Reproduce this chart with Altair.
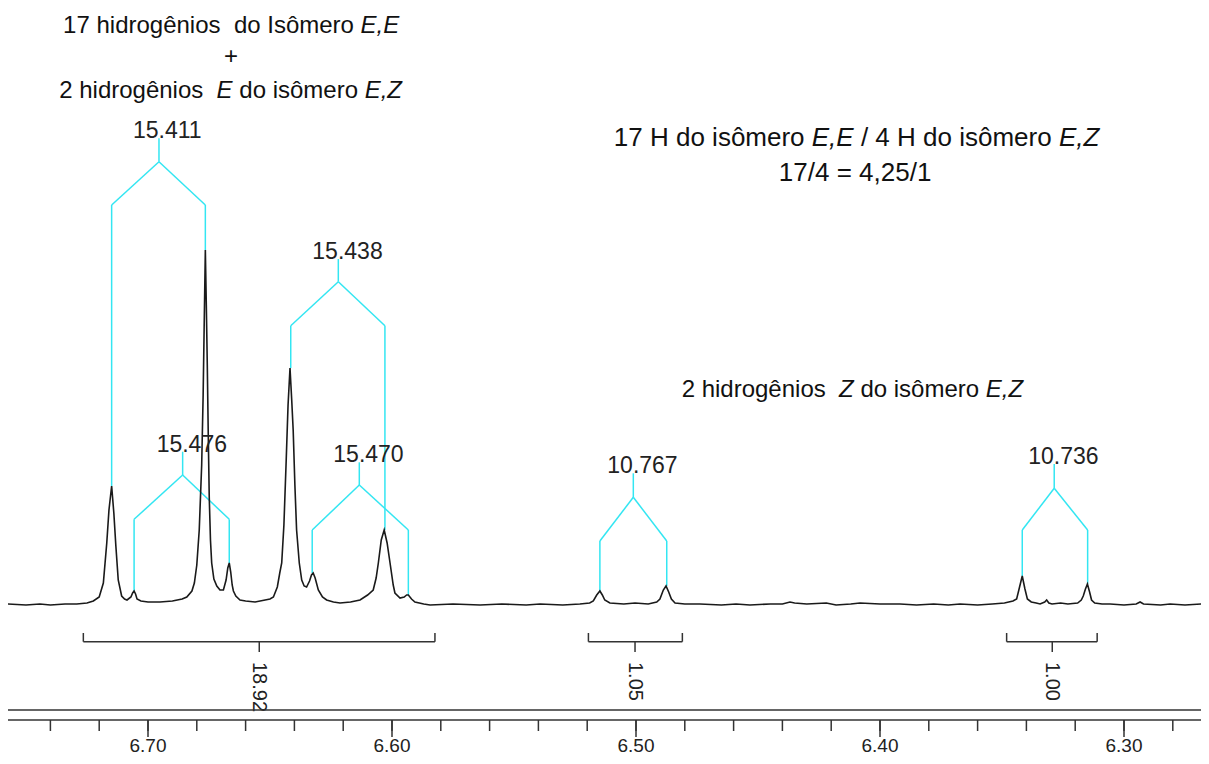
import altair as alt
import pandas as pd

# ---------------- data (ppm, intensity) ----------------
SPEC_PPM = [
    6.7574, 6.7500, 6.7443, 6.7400, 6.7340, 6.7292, 6.7250, 6.7224, 6.7200, 6.7183,
    6.7169, 6.7160, 6.7149, 6.7140, 6.7132, 6.7122, 6.7108, 6.7096, 6.7086, 6.7070,
    6.7063, 6.7057, 6.7051, 6.7045, 6.7029, 6.7000, 6.6951, 6.6900, 6.6860, 6.6841,
    6.6820, 6.6810, 6.6800, 6.6790, 6.6780, 6.6774, 6.6770, 6.6765, 6.6761, 6.6757,
    6.6753, 6.6749, 6.6744, 6.6739, 6.6730, 6.6718, 6.6705, 6.6691, 6.6680, 6.6673,
    6.6667, 6.6661, 6.6655, 6.6650, 6.6640, 6.6623, 6.6600, 6.6561, 6.6520, 6.6500,
    6.6486, 6.6470, 6.6460, 6.6452, 6.6443, 6.6434, 6.6426, 6.6418, 6.6411, 6.6405,
    6.6398, 6.6391, 6.6380, 6.6370, 6.6360, 6.6350, 6.6338, 6.6330, 6.6323, 6.6315,
    6.6302, 6.6285, 6.6268, 6.6240, 6.6213, 6.6170, 6.6131, 6.6100, 6.6077, 6.6065,
    6.6056, 6.6044, 6.6032, 6.6020, 6.6008, 6.5995, 6.5988, 6.5967, 6.5950, 6.5940,
    6.5933, 6.5920, 6.5906, 6.5870, 6.5844, 6.5750, 6.5639, 6.5550, 6.5450, 6.5393,
    6.5300, 6.5230, 6.5190, 6.5175, 6.5161, 6.5148, 6.5138, 6.5128, 6.5107, 6.5050,
    6.5004, 6.4950, 6.4915, 6.4902, 6.4888, 6.4877, 6.4866, 6.4855, 6.4840, 6.4800,
    6.4738, 6.4650, 6.4590, 6.4533, 6.4450, 6.4400, 6.4369, 6.4350, 6.4300, 6.4220,
    6.4180, 6.4120, 6.4082, 6.4000, 6.3918, 6.3850, 6.3780, 6.3720, 6.3672, 6.3600,
    6.3540, 6.3490, 6.3455, 6.3440, 6.3429, 6.3417, 6.3406, 6.3396, 6.3380, 6.3360,
    6.3344, 6.3325, 6.3317, 6.3308, 6.3295, 6.3260, 6.3230, 6.3190, 6.3175, 6.3167,
    6.3158, 6.3150, 6.3141, 6.3133, 6.3120, 6.3090, 6.3057, 6.3000, 6.2950, 6.2934,
    6.2920, 6.2850, 6.2811, 6.2750, 6.2684,
]
SPEC_INT = [
    1, 0, 1, 0, 1, 1, 2, 4, 8, 22,
    62, 95, 119, 92, 60, 25, 9, 6, 5, 8,
    12, 14, 11, 6, 4, 3, 3, 4, 6, 8,
    14, 22, 40, 75, 140, 210, 275, 355, 300, 240,
    170, 108, 65, 42, 26, 19, 15, 15, 25, 37,
    42, 33, 20, 14, 9, 5, 4, 3, 5, 6,
    8, 18, 32, 42, 80, 142, 200, 237, 205, 175,
    120, 75, 42, 25, 19, 18, 24, 30, 32, 27,
    15, 8, 5, 3, 2, 3, 5, 10, 15, 27,
    42, 65, 75, 62, 42, 20, 12, 7, 8, 10,
    10, 6, 3, 1, 0, 1, 0, 1, 0, 1,
    0, 1, 2, 4, 10, 14, 10, 5, 2, 1,
    2, 1, 3, 6, 15, 19, 13, 6, 2, 1,
    1, 0, 1, 0, 1, 1, 3, 2, 1, 2,
    0, 1, 2, 1, 1, 0, 1, 0, 1, 0,
    1, 2, 4, 6, 17, 29, 16, 6, 3, 2,
    1, 3, 5, 2, 1, 2, 1, 2, 5, 9,
    16, 21, 13, 5, 2, 1, 1, 0, 1, 3,
    1, 0, 1, 0, 1,
]

# multiplet trees: label, stem ppm, stem top, stem bottom, shoulder level,
# left leaf ppm, left leaf end, right leaf ppm, right leaf end (intensity units)
TREE_LABEL = ["15.411", "15.476", "15.438", "15.470", "10.767", "10.736"]
TREE_STEM = [6.6955, 6.6858, 6.6220, 6.6134, 6.5011, 6.3286]
TREE_TOP = [466.7, 153.3, 346.0, 142.7, 131.7, 141.0]
TREE_MID = [443.3, 130.0, 323.3, 120.0, 107.7, 116.7]
TREE_SHOULDER = [400.0, 85.7, 279.3, 75.0, 64.0, 75.0]
TREE_LEFT = [6.7149, 6.7057, 6.6415, 6.6327, 6.5148, 6.3417]
TREE_LEFT_END = [119, 14, 237, 32, 14, 29]
TREE_RIGHT = [6.6765, 6.6667, 6.6029, 6.5933, 6.4874, 6.3149]
TREE_RIGHT_END = [355, 42, 75, 10, 19, 21]

# integrals
INT_LABEL = ["18.92", "1.05", "1.00"]
INT_FROM = [6.7265, 6.5195, 6.3481]
INT_TO = [6.5824, 6.4810, 6.3110]
INT_MID = [6.6544, 6.5004, 6.3294]

# axis ticks
MINOR_TICKS = [round(6.74 - 0.02 * i, 2) for i in range(24)]
MAJOR_TICKS = [6.70, 6.60, 6.50, 6.40, 6.30]
MAJOR_LABELS = ["6.70", "6.60", "6.50", "6.40", "6.30"]

# ---------------- view ----------------
W, H = 1193, 748
PPM_LEFT, PPM_RIGHT = 6.757377, 6.268443
V_MIN, V_MAX = -151, 597
PX_PER_PPM = W / (PPM_LEFT - PPM_RIGHT)

xs = alt.Scale(domain=[PPM_RIGHT, PPM_LEFT], reverse=True, nice=False, zero=False)
ys = alt.Scale(domain=[V_MIN, V_MAX], nice=False, zero=False)
X = lambda f: alt.X(f, type="quantitative", scale=xs, axis=None)
Y = lambda f: alt.Y(f, type="quantitative", scale=ys, axis=None)

FONT = "Liberation Sans"
INK = "#1a1a1a"
CYAN = "#33e6f2"
NB = "\u00a0"

spec = pd.DataFrame({"ppm": SPEC_PPM, "v": SPEC_INT})
spectrum = alt.Chart(spec).mark_line(color=INK, strokeWidth=1.6).encode(
    x=X("ppm"), y=Y("v"))

# tree segments
segs = []
for i in range(len(TREE_LABEL)):
    s = TREE_STEM[i]
    segs += [
        (s, TREE_TOP[i], s, TREE_MID[i]),
        (s, TREE_MID[i], TREE_LEFT[i], TREE_SHOULDER[i]),
        (s, TREE_MID[i], TREE_RIGHT[i], TREE_SHOULDER[i]),
        (TREE_LEFT[i], TREE_SHOULDER[i], TREE_LEFT[i], TREE_LEFT_END[i]),
        (TREE_RIGHT[i], TREE_SHOULDER[i], TREE_RIGHT[i], TREE_RIGHT_END[i]),
    ]
seg_df = pd.DataFrame(segs, columns=["x", "y", "x2", "y2"])
trees = alt.Chart(seg_df).mark_rule(color=CYAN, strokeWidth=1.5).encode(
    x=X("x"), y=Y("y"), x2="x2", y2="y2")

tree_lab_df = pd.DataFrame({"x": TREE_STEM, "y": TREE_TOP, "t": TREE_LABEL})
tree_labels = alt.Chart(tree_lab_df).mark_text(
    align="left", baseline="alphabetic", dx=-26, fontSize=23, font=FONT, color="#222"
).encode(x=X("x"), y=Y("y"), text="t")

# integral brackets
HOOK_TOP, BAR, TICK_BOT, LAB_TOP = -28, -36.7, -47, -57
br = []
for i in range(len(INT_LABEL)):
    br += [
        (INT_FROM[i], BAR, INT_TO[i], BAR),
        (INT_FROM[i], HOOK_TOP, INT_FROM[i], BAR),
        (INT_TO[i], HOOK_TOP, INT_TO[i], BAR),
        (INT_MID[i], BAR, INT_MID[i], TICK_BOT),
    ]
br_df = pd.DataFrame(br, columns=["x", "y", "x2", "y2"])
brackets = alt.Chart(br_df).mark_rule(color="#333", strokeWidth=1.5).encode(
    x=X("x"), y=Y("y"), x2="x2", y2="y2")
int_lab_df = pd.DataFrame({"x": INT_MID, "y": [LAB_TOP] * 3, "t": INT_LABEL})
int_labels = alt.Chart(int_lab_df).mark_text(
    angle=90, align="left", baseline="middle", fontSize=20, font=FONT, color="#222"
).encode(x=X("x"), y=Y("y"), text="t")

# axis
AX1, AX2, MINOR_END, MAJOR_END, LAB_BASE = -105, -115, -126, -132, -146.5
ax_df = pd.DataFrame({"x": [PPM_LEFT, PPM_LEFT], "x2": [PPM_RIGHT, PPM_RIGHT], "y": [AX1, AX2]})
axis_lines = alt.Chart(ax_df).mark_rule(color="#333", strokeWidth=1.5).encode(
    x=X("x"), x2="x2", y=Y("y"))
tick_rows = [(t, AX2, MINOR_END) for t in MINOR_TICKS] + [(t, AX2, MAJOR_END) for t in MAJOR_TICKS]
tick_df = pd.DataFrame(tick_rows, columns=["x", "y", "y2"])
ticks = alt.Chart(tick_df).mark_rule(color="#333", strokeWidth=1.5).encode(
    x=X("x"), y=Y("y"), y2="y2")
tlab_df = pd.DataFrame({"x": MAJOR_TICKS, "y": [LAB_BASE] * 5, "t": MAJOR_LABELS})
tick_labels = alt.Chart(tlab_df).mark_text(
    align="center", baseline="alphabetic", fontSize=19, font=FONT, color="#222"
).encode(x=X("x"), y=Y("y"), text="t")

# ---------------- annotation texts (mixed roman / italic) ----------------
ARIAL = {' ': 278, NB: 278, ',': 278, '.': 278, '/': 278, '=': 584, '+': 584,
         'a': 556, 'd': 556, 'e': 556, 'g': 556, 'h': 556, 'i': 222, 'm': 833,
         'n': 556, 'o': 556, 'r': 333, 's': 500, 'ê': 556, 'ô': 556,
         'I': 278, 'H': 722, 'E': 667, 'Z': 611}
for d in "0123456789":
    ARIAL[d] = 556


def width_px(s, size):
    return sum(ARIAL.get(c, 556) for c in s) / 1000.0 * size


# (segments, anchor ppm, anchor kind, baseline intensity, font size)
LINES = [
    ([("17 hidrogênios  do Isômero ", "normal"), ("E,E", "italic")], 6.7348, "start", 572.0, 24),
    ([("+", "normal")], 6.6660, "center", 541.0, 24),
    ([("2 hidrogênios  ", "normal"), ("E", "italic"), (" do isômero ", "normal"), ("E,Z", "italic")],
     6.7364, "start", 506.7, 24),
    ([("17 H do isômero ", "normal"), ("E,E", "italic"), (" / 4 H do isômero ", "normal"), ("E,Z", "italic")],
     6.4096, "center", 459.5, 26),
    ([("17/4 = 4,25/1", "normal")], 6.4102, "center", 424.0, 26),
    ([("2 hidrogênios  ", "normal"), ("Z", "italic"), (" do isômero ", "normal"), ("E,Z", "italic")],
     6.4813, "start", 208.3, 24),
]
rows = []
for segments, anchor, kind, base, size in LINES:
    total = sum(width_px(t, size) for t, _ in segments)
    start = anchor if kind == "start" else anchor + total / 2 / PX_PER_PPM
    off = 0.0
    for t, st in segments:
        body = t.strip(" ")
        lead = width_px(t[: len(t) - len(t.lstrip(" "))], size)
        shown = body.replace(" ", NB)
        rows.append({"x": start - (off + lead) / PX_PER_PPM, "y": base, "t": shown, "st": st, "fs": size})
        off += width_px(t, size)
txt_df = pd.DataFrame(rows)


def text_layer(style):
    return alt.Chart(txt_df).transform_filter(alt.datum.st == style).mark_text(
        align="left", baseline="alphabetic", font=FONT, fontStyle=style, color="#111"
    ).encode(x=X("x"), y=Y("y"), text="t", size=alt.Size("fs:Q", scale=None, legend=None))


chart = alt.layer(
    trees, spectrum, tree_labels, brackets, int_labels, axis_lines, ticks, tick_labels,
    text_layer("normal"), text_layer("italic"),
).properties(
    width=W, height=H, padding=0, autosize=alt.AutoSizeParams(type="none"), background="white"
).configure_view(strokeWidth=0)

chart.save("out.html", embed_options={"renderer": "svg", "actions": False})
